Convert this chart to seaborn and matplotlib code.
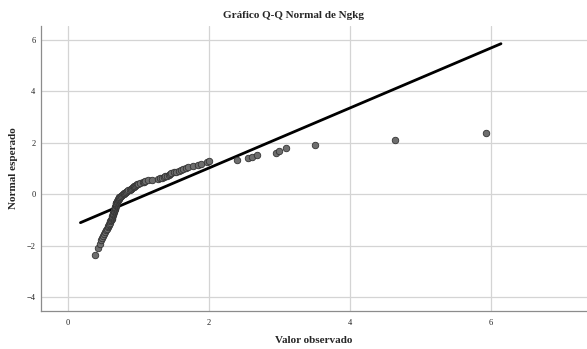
"""Q-Q normal plot of Ngkg (SPSS style)."""
import matplotlib
matplotlib.use("Agg")
import matplotlib.pyplot as plt
import numpy as np
import pandas as pd
import seaborn as sns

observed = [
    0.39, 0.43, 0.45, 0.47, 0.49, 0.505, 0.52, 0.53, 0.545, 0.555,
    0.565, 0.575, 0.58, 0.59, 0.595, 0.60, 0.61, 0.615, 0.62, 0.625,
    0.63, 0.63, 0.635, 0.64, 0.64, 0.645, 0.65, 0.655, 0.655, 0.66,
    0.665, 0.67, 0.67, 0.675, 0.675, 0.68, 0.68, 0.685, 0.685, 0.69,
    0.69, 0.695, 0.70, 0.70, 0.705, 0.71, 0.715, 0.72, 0.725, 0.73,
    0.74, 0.75, 0.76, 0.77, 0.78, 0.79, 0.80, 0.81, 0.82, 0.83,
    0.845, 0.86, 0.875, 0.89, 0.90, 0.91, 0.92, 0.935, 0.945, 0.955,
    0.97, 0.98, 1.00, 1.03, 1.06, 1.08, 1.10, 1.14, 1.20, 1.28,
    1.31, 1.34, 1.365, 1.38, 1.40, 1.43, 1.45, 1.47, 1.50, 1.53,
    1.57, 1.61, 1.64, 1.67, 1.71, 1.78, 1.84, 1.89, 1.98, 2.00,
    2.40, 2.55, 2.61, 2.68, 2.95, 3.00, 3.09, 3.50, 4.64, 5.93,
]
expected = [
    -2.366, -2.097, -1.927, -1.799, -1.695, -1.607, -1.530, -1.461, -1.398, -1.340,
    -1.287, -1.236, -1.189, -1.145, -1.102, -1.062, -1.023, -0.986, -0.950, -0.915,
    -0.881, -0.848, -0.816, -0.785, -0.755, -0.725, -0.696, -0.673, -0.644, -0.616,
    -0.588, -0.561, -0.534, -0.508, -0.482, -0.456, -0.431, -0.409, -0.384, -0.359,
    -0.335, -0.311, -0.287, -0.263, -0.240, -0.216, -0.193, -0.170, -0.147, -0.125,
    -0.102, -0.079, -0.057, -0.034, -0.011, 0.011, 0.034, 0.057, 0.079, 0.102,
    0.125, 0.147, 0.170, 0.193, 0.216, 0.240, 0.263, 0.287, 0.311, 0.335,
    0.359, 0.384, 0.409, 0.431, 0.456, 0.482, 0.508, 0.534, 0.561, 0.588,
    0.616, 0.644, 0.673, 0.696, 0.725, 0.755, 0.785, 0.816, 0.848, 0.881,
    0.915, 0.950, 0.986, 1.023, 1.062, 1.102, 1.145, 1.189, 1.236, 1.287,
    1.340, 1.398, 1.461, 1.530, 1.607, 1.695, 1.799, 1.927, 2.097, 2.366,
]
x_ticks = [0, 2, 4, 6]
y_ticks = [-4, -2, 0, 2, 4, 6]

TITLE = "Gráfico Q-Q Normal de Ngkg"
XLABEL = "Valor observado"
YLABEL = "Normal esperado"

sns.set_theme(style="white")
plt.rcParams["font.family"] = ["Liberation Serif", "DejaVu Serif"]

df = pd.DataFrame({"obs": observed, "exp": expected})

fig = plt.figure(figsize=(5.87, 3.49), dpi=100)
ax = fig.add_axes([0.0698, 0.109, 0.9302, 0.8166])

# reference line: expected = (x - mean) / sd
mean, sd = df["obs"].mean(), df["obs"].std()
span = df["obs"].max() - df["obs"].min()
line_x = np.array([df["obs"].min() - 0.038 * span, df["obs"].max() + 0.038 * span])
sns.lineplot(x=line_x, y=(line_x - mean) / sd, color="black", linewidth=2, ax=ax, zorder=3)

sns.scatterplot(data=df, x="obs", y="exp", s=22, color="#6e6e6e", edgecolor="#333333",
                linewidth=0.6, ax=ax, zorder=4)

ax.set_xlim(-0.38, 7.36)
ax.set_ylim(-4.54, 6.54)
ax.set_xticks(x_ticks)
ax.set_yticks(y_ticks)
ax.tick_params(axis="x", length=0, labelsize=6, pad=6, colors="#222222")
ax.tick_params(axis="y", length=0, labelsize=6, pad=4, colors="#222222")
ax.grid(True, color="#d4d4d4", linewidth=0.9)
ax.set_axisbelow(True)
for side in ("top", "right"):
    ax.spines[side].set_visible(False)
for side in ("left", "bottom"):
    ax.spines[side].set_color("#8c8c8c")
    ax.spines[side].set_linewidth(0.9)

ax.set_xlabel(XLABEL, fontsize=8, fontweight="bold", labelpad=6)
ax.set_ylabel(YLABEL, fontsize=8, fontweight="bold", labelpad=6)
fig.text(0.5, 0.957, TITLE, ha="center", va="center", fontsize=8, fontweight="bold")

fig.savefig("out.png", dpi=100)
plt.close(fig)
